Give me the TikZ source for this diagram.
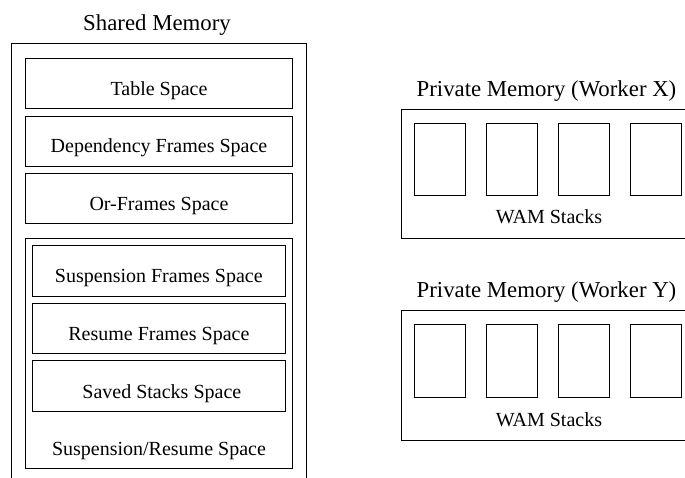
\documentclass[tikz,border=0pt]{standalone}
\usepackage{fontspec}
\setmainfont{Liberation Serif}
\begin{document}
\begin{tikzpicture}[x=1pt,y=-1pt,
  boxline/.style={draw=black,line width=0.9pt},
  area/.style={boxline,rectangle,inner sep=0pt,minimum width=266.6pt,minimum height=50pt},
  subarea/.style={boxline,rectangle,inner sep=0pt,minimum width=252.3pt,minimum height=50.4pt},
  stackbox/.style={boxline,rectangle,inner sep=0pt,minimum width=51pt,minimum height=72.4pt},
  lbl/.style={anchor=base,inner sep=0pt,font=\fontsize{20}{24}\selectfont},
  ttl/.style={anchor=base,inner sep=0pt,font=\fontsize{22.8}{27}\selectfont}]
\useasboundingbox (0,0) rectangle (685,478);
\clip (0,0) rectangle (685,478);
% Shared memory
\node[ttl] (shtitle) at (157,30.5) {Shared Memory};
\draw[boxline] (11.5,500) -- (11.5,43.5) -- (306.5,43.5) -- (306.5,500);
\node[area] (table) at (159,83.7) {};
\node[lbl] (tablel) at ([yshift=-12pt]table.center) {Table Space};
\node[area] (dep) at (159,141) {};
\node[lbl] (depl) at ([yshift=-12pt]dep.center) {Dependency Frames Space};
\node[area] (orf) at (159,198.7) {};
\node[lbl] (orfl) at ([yshift=-12pt]orf.center) {Or-Frames Space};
\node[boxline,rectangle,inner sep=0pt,minimum width=266.6pt,minimum height=230pt] (group) at (159,353.3) {};
\node[subarea] (susp) at (158.85,270.85) {};
\node[lbl] (suspl) at ([yshift=-12pt]susp.center) {Suspension Frames Space};
\node[subarea] (res) at (158.85,328.5) {};
\node[lbl] (resl) at ([yshift=-12pt]res.center) {Resume Frames Space};
\node[subarea] (sav) at (158.85,386) {};
\node[lbl] (savl) at ([xshift=3pt,yshift=-12pt]sav.center) {Saved Stacks Space};
\node[lbl] (groupl) at (159,455.5) {Suspension/Resume Space};
% Private memory X
\node[ttl] (xtitle) at (546.5,97) {Private Memory (Worker X)};
\draw[boxline] (700,109.3) -- (401,109.3) -- (401,238.3) -- (700,238.3);
\node[stackbox] (x1) at (439.5,159.5) {};
\node[stackbox] (x2) at (511.8,159.5) {};
\node[stackbox] (x3) at (583.8,159.5) {};
\node[stackbox] (x4) at (655.7,159.5) {};
\node[lbl] (xwam) at (549,224) {WAM Stacks};
% Private memory Y
\node[ttl] (ytitle) at (546.5,298) {Private Memory (Worker Y)};
\draw[boxline] (700,310.7) -- (401,310.7) -- (401,440) -- (700,440);
\node[stackbox] (y1) at (439.5,361) {};
\node[stackbox] (y2) at (511.8,361) {};
\node[stackbox] (y3) at (583.8,361) {};
\node[stackbox] (y4) at (655.7,361) {};
\node[lbl] (ywam) at (549,426) {WAM Stacks};
\end{tikzpicture}
\end{document}
